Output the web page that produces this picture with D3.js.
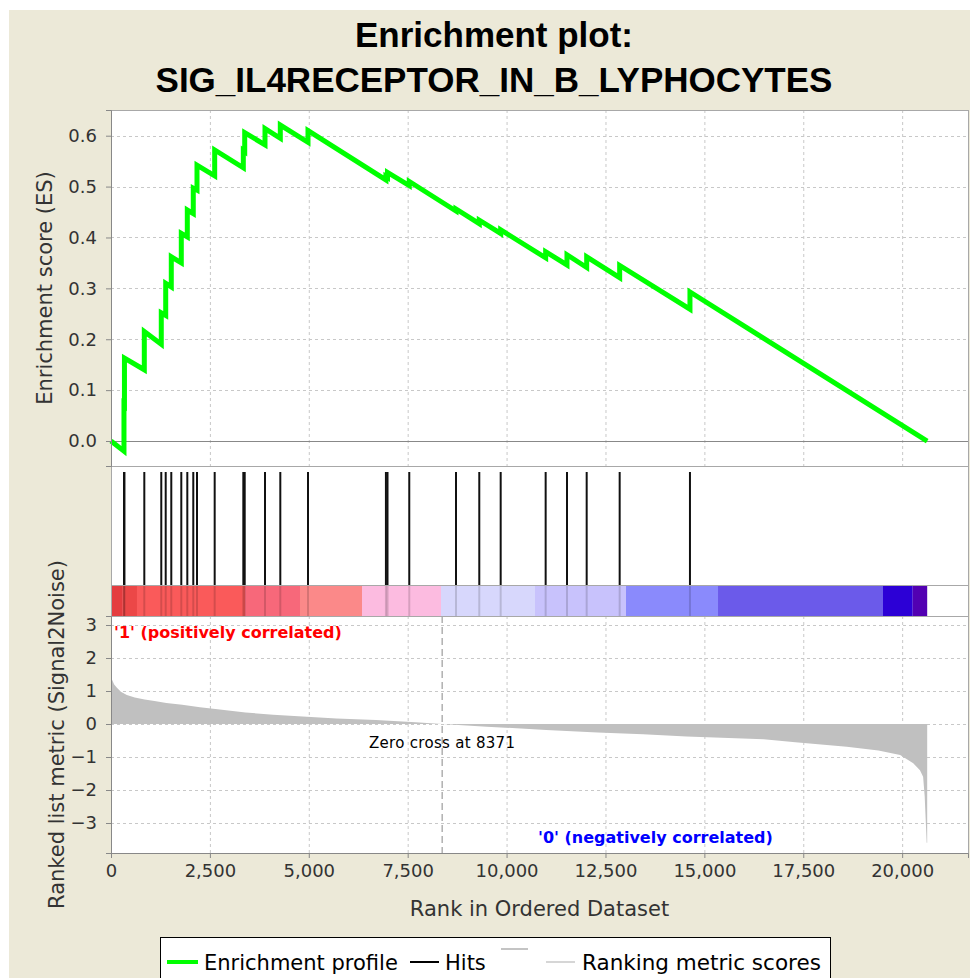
<!DOCTYPE html>
<html>
<head>
<meta charset="utf-8">
<script src="https://cdnjs.cloudflare.com/ajax/libs/d3/7.8.5/d3.min.js"></script>
<style>
  body { margin: 0; background: #fff; }
  text { font-family: "DejaVu Sans", sans-serif; }
</style>
</head>
<body>
<svg id="chart" width="970" height="978"></svg>
<script>
var N = 20633;            // genes in ranked list
var zeroCross = 8371;

// ES running sum (rank, ES) - pairs mark the jumps at hits
var esRank = [0, 328, 328, 340, 340, 842, 842, 1271, 1271, 1383, 1383, 1524, 1524, 1777, 1777,
              1929, 1929, 2080, 2080, 2174, 2174, 2621, 2621, 3345, 3345, 3380, 3380, 3893, 3893,
              4280, 4280, 4980, 4980, 6950, 6950, 6990, 6990, 7540, 7540, 8721, 8721, 9310, 9310,
              9851, 9851, 10988, 10988, 11527, 11527, 12025, 12025, 12859, 12859, 14636, 14636, 20633];
var esValue = [0.0, -0.02, 0.072, 0.071, 0.163, 0.14, 0.215, 0.19, 0.252, 0.247, 0.31, 0.303, 0.362,
               0.35, 0.408, 0.401, 0.454, 0.447, 0.497, 0.493, 0.542, 0.521, 0.572, 0.537, 0.571,
               0.569, 0.606, 0.582, 0.614, 0.595, 0.621, 0.587, 0.61, 0.513, 0.52, 0.518, 0.528,
               0.502, 0.51, 0.452, 0.456, 0.427, 0.434, 0.408, 0.415, 0.36, 0.372, 0.346, 0.366,
               0.341, 0.362, 0.321, 0.345, 0.259, 0.293, 0.0];

// positions of the gene set members in the ranked list
var hits = [328, 340, 842, 1271, 1383, 1524, 1777, 1929, 2080, 2174, 2621, 3345, 3380, 3893, 4280,
            4980, 6950, 6990, 7540, 8721, 9310, 9851, 10988, 11527, 12025, 12859, 14636];

// ranked list metric (Signal2Noise)
var metricRank = [0, 30, 80, 150, 250, 400, 600, 850, 1100, 1400, 1800, 2250, 2750, 3400, 4100,
                  4950, 5700, 6700, 7700, 8371, 9500, 11000, 12300, 13450, 14550, 16500, 17300,
                  18600, 19400, 19950, 20280, 20450, 20530, 20570, 20590, 20620, 20633];
var metricValue = [1.42, 1.33, 1.2, 1.1, 0.98, 0.88, 0.8, 0.74, 0.7, 0.64, 0.58, 0.51, 0.44, 0.35,
                   0.28, 0.22, 0.17, 0.12, 0.05, 0.0, -0.08, -0.18, -0.26, -0.31, -0.38, -0.46,
                   -0.55, -0.69, -0.8, -0.94, -1.19, -1.4, -1.6, -2.2, -2.75, -3.6, -3.6];

// heat bar under the hits
var barStart = [0, 300, 657, 3388, 4778, 6345, 8342, 10719, 13019, 15345, 19516, 20267];
var barEnd   = [300, 657, 3388, 4778, 6345, 8342, 10719, 13019, 15345, 19516, 20267, 20633];
var barColor = ['#e43c3f', '#ec4747', '#fa5a5a', '#f7687a', '#fb8989', '#fcbbe0',
                '#d7d7fc', '#c8c2fc', '#8a8afc', '#6b5aea', '#2c00d6', '#5200b2'];

var esTicks = [0, 0.1, 0.2, 0.3, 0.4, 0.5, 0.6];
var metricTicks = [-3, -2, -1, 0, 1, 2, 3];
var rankTicks = [0, 2500, 5000, 7500, 10000, 12500, 15000, 17500, 20000];

var svg = d3.select('#chart');

// panel layout
var left = 111, right = 968,
    esTop = 110, esBottom = 466,
    hitBottom = 585, barBottom = 616,
    mTop = 616, mBottom = 853;

var x = d3.scaleLinear().domain([0, N * 1.05]).range([left, right]);
var yES = d3.scaleLinear().domain([-0.0491, 0.6505]).range([esBottom, esTop]);
var yM = d3.scaleLinear().domain([-3.909, 3.273]).range([mBottom, mTop]);

// beige frame
svg.append('rect').attr('x', 9).attr('y', 10).attr('width', 961).attr('height', 968).attr('fill', '#ece9d8');

// title
svg.append('text').attr('x', 494).attr('y', 47).attr('text-anchor', 'middle')
    .style('font-family', '"Liberation Sans", Arial, sans-serif').style('font-weight', 'bold')
    .style('font-size', '35px').text('Enrichment plot:');
svg.append('text').attr('x', 494).attr('y', 92).attr('text-anchor', 'middle')
    .style('font-family', '"Liberation Sans", Arial, sans-serif').style('font-weight', 'bold')
    .style('font-size', '35px').text('SIG_IL4RECEPTOR_IN_B_LYPHOCYTES');

// white plot backgrounds
svg.append('rect').attr('x', left).attr('y', esTop).attr('width', right - left).attr('height', mBottom - esTop).attr('fill', '#fff');

function dashedGrid(g, yScale, yTicks, top, bottom){
    g.selectAll('.gx').data(rankTicks).enter().append('line')
        .attr('x1', function(d){ return x(d) + 0.5; }).attr('x2', function(d){ return x(d) + 0.5; })
        .attr('y1', top).attr('y2', bottom)
        .attr('stroke', '#c8c8c8').attr('stroke-dasharray', '3,3');
    g.selectAll('.gy').data(yTicks).enter().append('line')
        .attr('x1', left).attr('x2', right)
        .attr('y1', function(d){ return Math.round(yScale(d)) + 0.5; })
        .attr('y2', function(d){ return Math.round(yScale(d)) + 0.5; })
        .attr('stroke', '#c8c8c8').attr('stroke-dasharray', '3,3');
}

// ---- ES panel ----
var gES = svg.append('g');
dashedGrid(gES, yES, esTicks, esTop, esBottom);
gES.append('line').attr('x1', left).attr('x2', right)
    .attr('y1', Math.round(yES(0)) + 0.5).attr('y2', Math.round(yES(0)) + 0.5)
    .attr('stroke', '#888').attr('stroke-width', 1.2);

var esData = esRank.map(function(r, i){ return [r, esValue[i]]; });
gES.append('path').datum(esData)
    .attr('d', d3.line().x(function(d){ return x(d[0]); }).y(function(d){ return yES(d[1]); }))
    .attr('fill', 'none').attr('stroke', '#00ff00').attr('stroke-width', 5)
    .attr('stroke-linejoin', 'miter');

// ---- hits panel ----
svg.append('g').selectAll('line').data(hits).enter().append('line')
    .attr('x1', function(d){ return x(d); }).attr('x2', function(d){ return x(d); })
    .attr('y1', esBottom + 6).attr('y2', hitBottom)
    .attr('stroke', '#111').attr('stroke-width', 2);

// ---- heat bar ----
var gBar = svg.append('g');
gBar.selectAll('rect').data(barStart).enter().append('rect')
    .attr('x', function(d){ return x(d); })
    .attr('width', function(d, i){ return x(barEnd[i]) - x(d); })
    .attr('y', hitBottom).attr('height', barBottom - hitBottom)
    .attr('fill', function(d, i){ return barColor[i]; });
gBar.selectAll('line').data(hits).enter().append('line')
    .attr('x1', function(d){ return x(d); }).attr('x2', function(d){ return x(d); })
    .attr('y1', hitBottom).attr('y2', barBottom)
    .attr('stroke', 'rgba(0,0,0,0.15)').attr('stroke-width', 2);

// ---- ranked metric panel ----
var gM = svg.append('g');
dashedGrid(gM, yM, metricTicks, mTop, mBottom);
var mData = metricRank.map(function(r, i){ return [r, metricValue[i]]; });
gM.append('path').datum(mData)
    .attr('d', d3.area()
        .x(function(d){ return x(d[0]); }).y0(yM(0)).y1(function(d){ return yM(d[1]); }))
    .attr('fill', '#c0c0c0');
gM.append('line')
    .attr('x1', x(zeroCross)).attr('x2', x(zeroCross)).attr('y1', mTop).attr('y2', mBottom)
    .attr('stroke', '#888').attr('stroke-dasharray', '7,4');

gM.append('text').attr('x', left + 3).attr('y', mTop + 22)
    .attr('fill', '#ff0000').style('font-size', '16px').style('font-weight', 'bold')
    .text("'1' (positively correlated)");
gM.append('text').attr('x', x(zeroCross)).attr('y', yM(0) + 24).attr('text-anchor', 'middle')
    .attr('fill', '#000').style('font-size', '15px').style('letter-spacing', '0.3px')
    .text('Zero cross at ' + zeroCross);
gM.append('text').attr('x', 538).attr('y', mBottom - 10)
    .attr('fill', '#0000ff').style('font-size', '16px').style('font-weight', 'bold')
    .text("'0' (negatively correlated)");

// panel outlines
[[esTop, esBottom], [esBottom, hitBottom], [hitBottom, barBottom], [mTop, mBottom]].forEach(function(p){
    svg.append('rect').attr('x', left + 0.5).attr('y', p[0] + 0.5)
        .attr('width', right - left).attr('height', p[1] - p[0])
        .attr('fill', 'none').attr('stroke', '#a8a8a8');
});

// ---- axes ----
function styleAxis(g){
    g.select('.domain').attr('stroke', '#888');
    g.selectAll('.tick line').attr('stroke', '#888');
    g.selectAll('.tick text').attr('fill', '#333').style('font-size', '18px')
        .style('font-family', '"DejaVu Sans", sans-serif');
}
svg.append('g').attr('transform', 'translate(' + left + ',0)')
    .call(d3.axisLeft(yES).tickValues(esTicks).tickFormat(d3.format('.1f')).tickSize(5).tickPadding(9))
    .call(styleAxis);
svg.append('g').attr('transform', 'translate(' + left + ',0)')
    .call(d3.axisLeft(yM).tickValues(metricTicks).tickFormat(d3.format('d')).tickSize(5).tickPadding(9))
    .call(styleAxis);
svg.append('g').attr('transform', 'translate(0,' + mBottom + ')')
    .call(d3.axisBottom(x).tickValues(rankTicks).tickFormat(d3.format(',')).tickSize(5).tickPadding(6))
    .call(styleAxis);

// axis labels
svg.append('text').attr('transform', 'translate(45,' + (esTop + esBottom) / 2 + ') rotate(-90)')
    .attr('text-anchor', 'middle').attr('dominant-baseline', 'central')
    .attr('fill', '#333').style('font-size', '21px').text('Enrichment score (ES)');
svg.append('text').attr('transform', 'translate(57,' + (mTop + mBottom) / 2 + ') rotate(-90)')
    .attr('text-anchor', 'middle').attr('dominant-baseline', 'central')
    .attr('fill', '#333').style('font-size', '21px').text('Ranked list metric (Signal2Noise)');
svg.append('text').attr('x', (left + right) / 2).attr('y', 916).attr('text-anchor', 'middle')
    .attr('fill', '#333').style('font-size', '21px').text('Rank in Ordered Dataset');

// ---- legend ----
var lg = svg.append('g').style('font-family', '"Liberation Sans", Arial, sans-serif');
lg.append('rect').attr('x', 160.5).attr('y', 937.5).attr('width', 670).attr('height', 60)
    .attr('fill', '#fff').attr('stroke', '#000');
lg.append('line').attr('x1', 167).attr('x2', 198).attr('y1', 962).attr('y2', 962)
    .attr('stroke', '#00ff00').attr('stroke-width', 4);
lg.append('text').attr('x', 204).attr('y', 970).style('font-size', '21px').text('Enrichment profile');
lg.append('line').attr('x1', 410).attr('x2', 439).attr('y1', 962).attr('y2', 962)
    .attr('stroke', '#000').attr('stroke-width', 2);
lg.append('text').attr('x', 445).attr('y', 970).style('font-size', '21px').text('Hits');
lg.append('line').attr('x1', 501).attr('x2', 528).attr('y1', 949).attr('y2', 949)
    .attr('stroke', '#c4c4c4').attr('stroke-width', 2);
lg.append('line').attr('x1', 546).attr('x2', 575).attr('y1', 962).attr('y2', 962)
    .attr('stroke', '#c8c8c8').attr('stroke-width', 1.5);
lg.append('text').attr('x', 582).attr('y', 970).style('font-size', '21.5px').text('Ranking metric scores');
</script>
</body>
</html>
